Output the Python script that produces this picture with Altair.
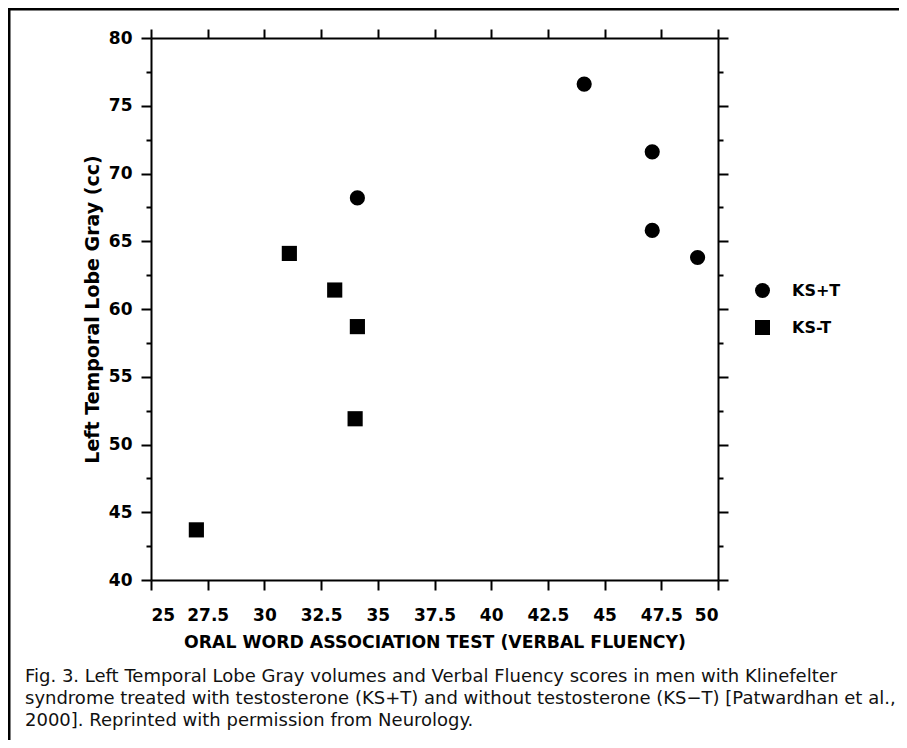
import altair as alt
import pandas as pd

# ---- data ----
groups = ["KS+T", "KS-T"]
ks_plus_x = [44.1, 47.1, 47.1, 49.1, 34.1]
ks_plus_y = [76.6, 71.6, 65.8, 63.8, 68.2]
ks_minus_x = [31.1, 33.1, 34.1, 34.0, 27.0]
ks_minus_y = [64.1, 61.4, 58.7, 51.9, 43.7]

x_ticks = [25, 27.5, 30, 32.5, 35, 37.5, 40, 42.5, 45, 47.5, 50]
y_ticks = [40, 42.5, 45, 47.5, 50, 52.5, 55, 57.5, 60, 62.5, 65, 67.5, 70, 72.5, 75, 77.5, 80]

x_title = "ORAL WORD ASSOCIATION TEST (VERBAL FLUENCY)"
y_title = "Left Temporal Lobe Gray (cc)"

caption_lines = [
    "Fig. 3. Left Temporal Lobe Gray volumes and Verbal Fluency scores in men with Klinefelter",
    "syndrome treated with testosterone (KS+T) and without testosterone (KS\u2212T) [Patwardhan et al.,",
    "2000]. Reprinted with permission from Neurology.",
]

df = pd.DataFrame({
    "x": ks_plus_x + ks_minus_x,
    "y": ks_plus_y + ks_minus_y,
    "group": [groups[0]] * len(ks_plus_x) + [groups[1]] * len(ks_minus_x),
})
cap_df = pd.DataFrame({"text": caption_lines, "line": list(range(len(caption_lines)))})

AX_FONT = "DejaVu Sans"
W, H = 567, 542
PL, PT = 143, 30
TOTAL_W, TOTAL_H = 891, 732

xscale = alt.Scale(domain=[25, 50], nice=False, zero=False)
yscale = alt.Scale(domain=[40, 80], nice=False, zero=False)
minor_cond = {"condition": {"test": "datum.value % 5 === 0", "value": 10}, "value": 5}

common_axis = dict(grid=False, domainColor="black", domainWidth=2, tickColor="black",
                   tickWidth=2, labelColor="black", labelFont=AX_FONT, labelFontWeight="bold",
                   labelFontSize=17, titleFont=AX_FONT, titleFontWeight="bold",
                   titleColor="black")

points = alt.Chart(df).mark_point(filled=True, opacity=1, size=230, color="black").encode(
    x=alt.X("x:Q", scale=xscale,
            axis=alt.Axis(orient="bottom", values=x_ticks, format=".1~f", tickSize=10,
                          labelPadding=17, title=x_title, titlePadding=10,
                          titleFontSize=17.3, **common_axis)),
    y=alt.Y("y:Q", scale=yscale,
            axis=alt.Axis(orient="left", values=y_ticks, tickSize=minor_cond,
                          labelExpr="datum.value % 5 === 0 ? toString(datum.value) : ''",
                          labelPadding=9, title=y_title, titlePadding=6,
                          titleFontSize=19, **common_axis)),
    shape=alt.Shape("group:N", scale=alt.Scale(domain=groups, range=["circle", "square"]),
                    legend=alt.Legend(title=None, orient="none", legendX=603, legendY=244,
                                      symbolSize=225, symbolFillColor="black",
                                      symbolStrokeColor="black", symbolType="circle",
                                      labelFont=AX_FONT, labelFontWeight="bold",
                                      labelFontSize=16, labelColor="black", labelOffset=21,
                                      rowPadding=16, padding=0)),
)

mirror = alt.Chart(df).mark_point(opacity=0).encode(
    x=alt.X("x:Q", scale=xscale,
            axis=alt.Axis(orient="top", values=x_ticks, tickSize=9, labels=False, title=None,
                          **common_axis)),
    y=alt.Y("y:Q", scale=yscale,
            axis=alt.Axis(orient="right", values=y_ticks, tickSize=minor_cond, labels=False,
                          title=None, **common_axis)),
)

frame_src = alt.Data(values=[{"k": 1}])
top_border = alt.Chart(frame_src).mark_rule(color="black", strokeWidth=3).encode(
    x=alt.value(-PL), x2=alt.value(TOTAL_W - PL), y=alt.value(1 - PT))
left_border = alt.Chart(frame_src).mark_rule(color="black", strokeWidth=3).encode(
    x=alt.value(1 - PL), y=alt.value(-PT), y2=alt.value(TOTAL_H - PT))

caption = alt.Chart(cap_df).transform_calculate(
    ypix="644 + 22 * datum.line"
).mark_text(align="left", baseline="alphabetic", font="DejaVu Sans", fontSize=18,
            color="#111111").encode(
    x=alt.value(25 - 151),
    y=alt.Y("ypix:Q", scale=None, axis=None),
    text="text:N",
)

chart = alt.layer(points, mirror, top_border, left_border, caption).resolve_axis(
    x="independent", y="independent"
).properties(
    width=W, height=H,
    padding={"left": PL, "top": PT, "right": TOTAL_W - PL - W, "bottom": TOTAL_H - PT - H},
    autosize=alt.AutoSizeParams(type="none"),
    background="white",
).configure_view(stroke=None)

chart.save("out.html", embed_options={"renderer": "svg", "actions": False})
